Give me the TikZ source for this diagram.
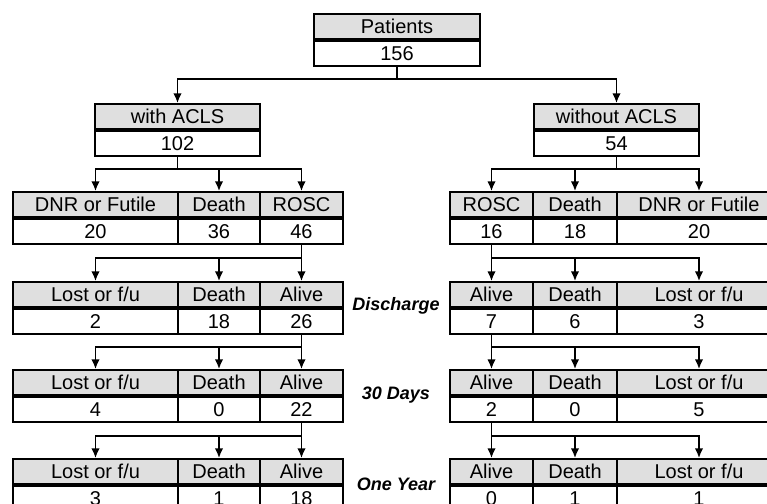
\documentclass[tikz,border=0pt]{standalone}
\usepackage{fontspec}
\setmainfont{Liberation Sans}
\usetikzlibrary{arrows.meta, positioning}

% one cell of a table: name, left x, top y, width (px), header, value
\newcommand{\flowcell}[6]{%
  \node[head, minimum width=#4*0.5pt] (#1h) at (#2,#3) {#5};
  \node[val, minimum width=#4*0.5pt] (#1v) at (#1h.south west) {#6};
}

\begin{document}
\begin{tikzpicture}[x=0.5pt, y=-0.5pt]

\tikzset{head/.style = {draw, line width=1pt, fill=gray!25, anchor=north west, inner sep=0pt,
    minimum height=12.5pt, text height=7.2pt, text depth=0pt}}
\tikzset{val/.style = {head, fill=white}}
\tikzset{edge/.style = {->, > = {Latex[length=4.8pt, width=4.2pt]}, line width=0.75pt}}
\tikzset{stage/.style = {font=\fontsize{9}{11}\selectfont\bfseries\itshape}}

\path[use as bounding box, clip] (0,0) rectangle (767,504);

% top
\flowcell{pat}{313}{13}{166}{Patients}{156}
\flowcell{with}{94}{103}{165}{with ACLS}{102}
\flowcell{wo}{533}{103}{165}{without ACLS}{54}

% with ACLS side
\flowcell{L1a}{12}{191}{165}{DNR or Futile}{20}
\flowcell{L1b}{177}{191}{82}{Death}{36}
\flowcell{L1c}{259}{191}{83}{ROSC}{46}
\flowcell{L2a}{12}{281}{165}{Lost or f/u}{2}
\flowcell{L2b}{177}{281}{82}{Death}{18}
\flowcell{L2c}{259}{281}{83}{Alive}{26}
\flowcell{L3a}{12}{369}{165}{Lost or f/u}{4}
\flowcell{L3b}{177}{369}{82}{Death}{0}
\flowcell{L3c}{259}{369}{83}{Alive}{22}
\flowcell{L4a}{12}{458}{165}{Lost or f/u}{3}
\flowcell{L4b}{177}{458}{82}{Death}{1}
\flowcell{L4c}{259}{458}{83}{Alive}{18}

% without ACLS side
\flowcell{R1a}{449}{191}{83}{ROSC}{16}
\flowcell{R1b}{532}{191}{84}{Death}{18}
\flowcell{R1c}{616}{191}{164}{DNR or Futile}{20}
\flowcell{R2a}{449}{281}{83}{Alive}{7}
\flowcell{R2b}{532}{281}{84}{Death}{6}
\flowcell{R2c}{616}{281}{164}{Lost or f/u}{3}
\flowcell{R3a}{449}{369}{83}{Alive}{2}
\flowcell{R3b}{532}{369}{84}{Death}{0}
\flowcell{R3c}{616}{369}{164}{Lost or f/u}{5}
\flowcell{R4a}{449}{458}{83}{Alive}{0}
\flowcell{R4b}{532}{458}{84}{Death}{1}
\flowcell{R4c}{616}{458}{164}{Lost or f/u}{1}

% stages
\node[stage] (dis) at (396,306) {Discharge};
\node[stage] (d30) at (396,395) {30 Days};
\node[stage] (yr1) at (396,484) {One Year};

% edges
\coordinate (bus0) at (0,79);
\coordinate (bus1) at (0,169);
\draw[edge] (patv.south) |- (withh.north |- bus0) -- (withh.north);
\draw[edge] (patv.south |- bus0) -| (woh.north);
\draw[edge] (withv.south) |- (L1ah.north |- bus1) -- (L1ah.north);
\draw[edge] (L1bh.north |- bus1) -- (L1bh.north);
\draw[edge] (withv.south |- bus1) -| (L1ch.north);
\draw[edge] (wov.south) |- (R1ah.north |- bus1) -- (R1ah.north);
\draw[edge] (R1bh.north |- bus1) -- (R1bh.north);
\draw[edge] (wov.south |- bus1) -| (R1ch.north);
\foreach \k/\n/\y in {1/2/258, 2/3/347, 3/4/436} {
  \coordinate (bus) at (0,\y);
  \draw[edge] (L\k cv.south) |- (L\n ah.north |- bus) -- (L\n ah.north);
  \draw[edge] (L\n bh.north |- bus) -- (L\n bh.north);
  \draw[edge] (L\k cv.south |- bus) -- (L\n ch.north);
  \draw[edge] (R\k av.south) |- (R\n ch.north |- bus) -- (R\n ch.north);
  \draw[edge] (R\n bh.north |- bus) -- (R\n bh.north);
  \draw[edge] (R\k av.south |- bus) -- (R\n ah.north);
}
\end{tikzpicture}
\end{document}
